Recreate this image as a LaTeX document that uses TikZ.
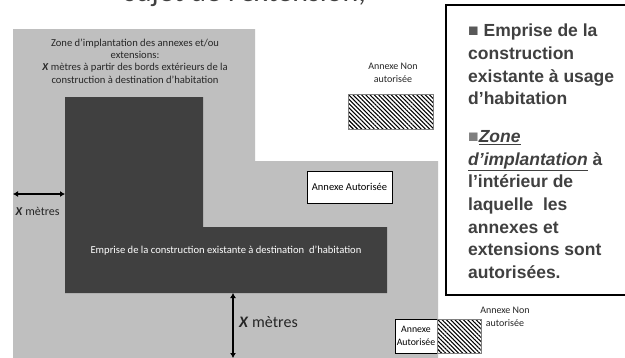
\documentclass[tikz,border=0pt]{standalone}
\usepackage{fontspec}
\setmainfont{Carlito}
\newfontfamily\legfont{Liberation Sans}
\usetikzlibrary{arrows.meta,patterns.meta}
\definecolor{zonegray}{HTML}{BFBFBF}
\definecolor{bldgray}{HTML}{404040}
\definecolor{titlegray}{HTML}{404040}
\definecolor{legtext}{HTML}{404040}
\definecolor{sqone}{HTML}{595959}
\definecolor{sqtwo}{HTML}{7F7F7F}
\tikzset{
  smalltxt/.style={font=\fontsize{10.6}{12.2}\selectfont, text=black!85, align=center, inner sep=0pt},
  hatchbox/.style={pattern={Lines[angle=-45,distance=3pt,line width=1.1pt]}, draw=gray, line width=0.5pt},
  annexbox/.style={draw=black, line width=0.6pt, fill=white, inner sep=0pt},
  dimarrow/.style={{Latex[length=5pt,width=6pt]}-{Latex[length=5pt,width=6pt]}, line width=1.6pt, black},
}
\begin{document}
\begin{tikzpicture}[x=1pt,y=-1pt]
\clip (0,0) rectangle (625,357);
\fill[white] (0,0) rectangle (625,357);
% cut title
\node[anchor=base east, font=\fontsize{30}{36}\selectfont, text=titlegray, inner sep=0pt] (title) at (366,1.5) {sujet de l’extension,};
% zone
\fill[zonegray] (13,29) -- (255,29) -- (255,161) -- (438,161) -- (438,362) -- (13,362) -- cycle;
% building
\fill[bldgray] (65,97) -- (203,97) -- (203,227) -- (387,227) -- (387,293) -- (65,293) -- cycle;
\node[smalltxt] (zonetxt) at (135,61) {Zone d’implantation des annexes et/ou\\ extensions:\\ \textbf{\textit{X}} mètres à partir des bords extérieurs de la\\ construction à destination d’habitation};
\node[smalltxt, text=white] (bldtxt) at (226,251) {Emprise de la construction existante à destination\ \ d’habitation};
% top non-authorised annex
\node[smalltxt, font=\fontsize{10}{13}\selectfont] (nonlbl1) at (393,73) {Annexe Non\\autorisée};
\node[hatchbox, minimum width=85pt, minimum height=35pt, inner sep=0pt] (hatch1) at (390.5,111.5) {};
% authorised annex
\node[annexbox, minimum width=85pt, minimum height=32pt, font=\fontsize{10.5}{12}\selectfont] (auto1) at (349.5,187) {Annexe Autorisée};
% left dimension
\coordinate (la) at (13,194);
\coordinate (lb) at (65,194);
\draw[dimarrow] (la) -- (lb);
\node[smalltxt, font=\fontsize{12}{14}\selectfont] (lxm) at (37.5,211) {\textbf{\textit{X}} mètres};
% bottom dimension
\coordinate (ba) at (233,293);
\coordinate (bb) at (233,358);
\draw[dimarrow] (ba) -- (bb);
\node[smalltxt, anchor=west, font=\fontsize{16}{18}\selectfont] (bxm) at (239,322) {\textbf{\textit{X}} mètres};
% bottom annexes
\node[annexbox, minimum width=42pt, minimum height=34pt, font=\fontsize{9.8}{12.5}\selectfont, align=center] (auto2) at (416,336) {Annexe\\Autorisée};
\node[hatchbox, minimum width=44pt, minimum height=34pt] (hatch2) at (459,336) {};
\node[smalltxt, font=\fontsize{10}{13}\selectfont] (nonlbl2) at (505,316.5) {Annexe Non\\autorisée};
% legend
\draw[line width=2pt] (446,5) rectangle (640,295);
\node[anchor=north west, inner sep=0pt, align=left, text=legtext, font=\legfont\bfseries\fontsize{17.5}{22.6}\selectfont] (legend) at (468,24) {{\color{sqone}■} Emprise de la\\
construction\\
existante à usage\\
d’habitation\\[15.4pt]
{\color{sqtwo}■}\underline{\textit{Zone}}\\
\underline{\textit{d’implantation}} à\\
l’intérieur de\\
laquelle\ \ les\\
annexes et\\
extensions sont\\
autorisées.};
\end{tikzpicture}
\end{document}
